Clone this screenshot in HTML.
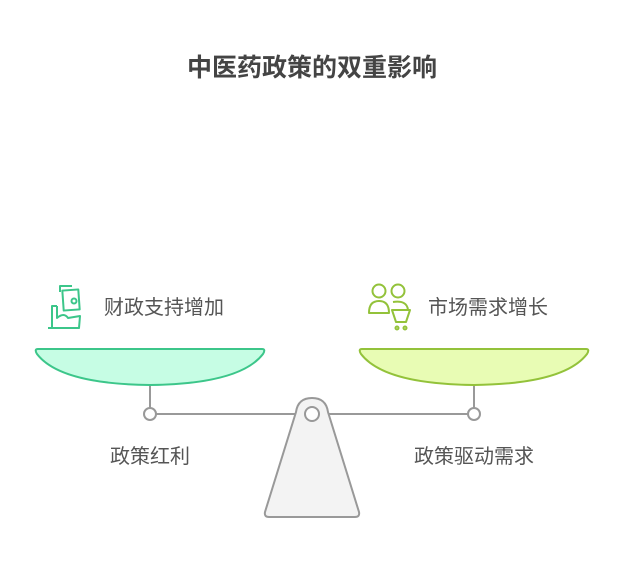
<!DOCTYPE html>
<html><head><meta charset="utf-8"><style>
body{margin:0;background:#fff;}
svg text{font-family:"Liberation Sans","Noto Sans CJK SC",sans-serif;}
</style></head><body>
<svg width="624" height="576" viewBox="0 0 624 576" xmlns="http://www.w3.org/2000/svg">
<rect width="624" height="576" fill="#fff"/>
<text x="312" y="76" text-anchor="middle" font-size="25" font-weight="bold" fill="#444">中医药政策的双重影响</text>
<line x1="150" y1="414" x2="474" y2="414" stroke="#999" stroke-width="2"/>
<line x1="150" y1="385" x2="150" y2="408" stroke="#999" stroke-width="2"/>
<line x1="474" y1="385" x2="474" y2="408" stroke="#999" stroke-width="2"/>
<circle cx="150" cy="414" r="6" fill="#fff" stroke="#999" stroke-width="2"/>
<circle cx="474" cy="414" r="6" fill="#fff" stroke="#999" stroke-width="2"/>
<path d="M296 412 Q298 398 312 398 Q326 398 328 412 L359 512 Q360 517 355 517 L269 517 Q264 517 265 512 Z" fill="#f3f3f3" stroke="#999" stroke-width="2"/>
<circle cx="312" cy="414" r="7" fill="#fff" stroke="#999" stroke-width="2"/>
<path d="M38 349 L262 349 Q266 349 263 354 Q240 384 150 385 Q60 384 37 354 Q34 349 38 349 Z" fill="#c6fde4" stroke="#3cc68a" stroke-width="2"/>
<path d="M362 349 L586 349 Q590 349 587 354 Q564 384 474 385 Q384 384 361 354 Q358 349 362 349 Z" fill="#e8fcb4" stroke="#93c23a" stroke-width="2"/>
<g fill="none" stroke="#3cc68a" stroke-width="2" stroke-linejoin="round">
<path d="M57 306 L52 306 L52 328 L48 328"/>
<path d="M57 306 L57 318 Q64 312 68 318 L80 316 L79 328 L52 328"/>
<rect x="63" y="290" width="16" height="20" transform="rotate(-4 71 300)"/>
<path d="M60 292 L60 286 L72 286"/>
<circle cx="74" cy="301" r="2.5"/>
</g>
<text x="104" y="314" font-size="20" fill="#555">财政支持增加</text>
<g fill="none" stroke="#93c23a" stroke-width="2" stroke-linejoin="round">
<circle cx="379" cy="291" r="6.5"/>
<circle cx="398" cy="291" r="6.5"/>
<path d="M369 313 Q369 301 379 301 Q389 301 389 313 Z"/>
<path d="M393 302 Q407 300 408 310"/>
<path d="M392 310 L410 310 L406 322 L396 322 Z"/>
<circle cx="397" cy="328" r="1.5"/>
<circle cx="405" cy="328" r="1.5"/>
</g>
<text x="428" y="314" font-size="20" fill="#555">市场需求增长</text>
<text x="150" y="463" text-anchor="middle" font-size="20" fill="#555">政策红利</text>
<text x="474" y="463" text-anchor="middle" font-size="20" fill="#555">政策驱动需求</text>
</svg>
</body></html>
